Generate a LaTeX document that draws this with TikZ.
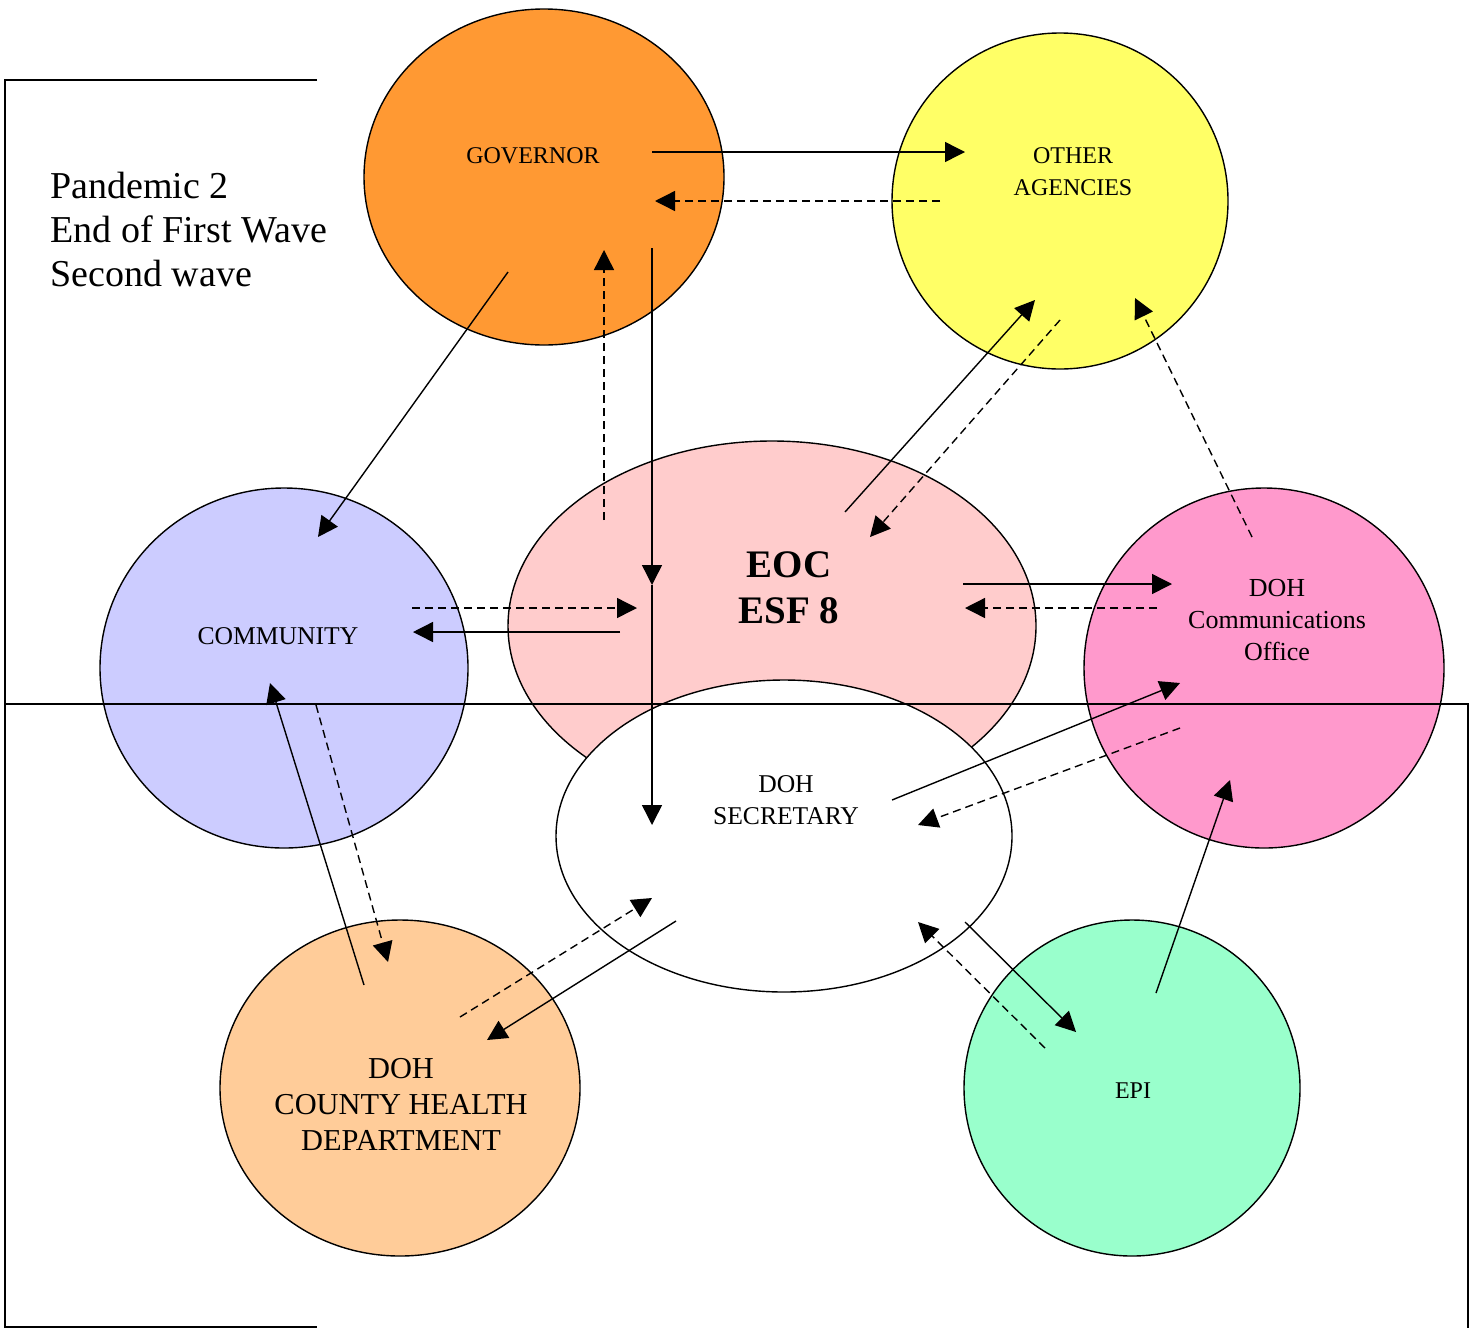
\documentclass[tikz,border=0pt]{standalone}
\usepackage{fontspec}
\setmainfont{Liberation Serif}
\usetikzlibrary{arrows.meta,shapes.geometric}
\definecolor{pgov}{HTML}{FF9933}
\definecolor{poth}{HTML}{FFFF66}
\definecolor{peoc}{HTML}{FFCCCC}
\definecolor{pcmty}{HTML}{CCCCFF}
\definecolor{pcomms}{HTML}{FF99CC}
\definecolor{pcty}{HTML}{FFCC99}
\definecolor{pepi}{HTML}{99FFCC}
\tikzset{
  blob/.style  ={ellipse, draw=black, line width=0.7pt, inner sep=0pt},
  flow/.style  ={-{Triangle[length=10pt,width=10pt]}, line width=0.7pt},
  back/.style  ={flow, dash pattern=on 4pt off 2.5pt},
  rule/.style  ={line width=0.7pt},
  lbl/.style   ={inner sep=0pt, align=center, font=\fontsize{12}{16}\selectfont},
  midlbl/.style={lbl, font=\fontsize{12.8}{16}\selectfont},
  biglbl/.style={lbl, font=\fontsize{15.2}{18}\selectfont},
}

\begin{document}
\begin{tikzpicture}[x=0.5pt,y=-0.5pt]
  \useasboundingbox (0,0) rectangle (1470,1328);
  % circles
  \node[blob, fill=pgov,   minimum width=180pt, minimum height=168pt] (gov)   at (544,177)  {};
  \node[blob, fill=poth,   minimum width=168pt, minimum height=168pt] (oth)   at (1060,201) {};
  \node[blob, fill=peoc,   minimum width=264pt, minimum height=185pt] (eoc)   at (772,626)  {};
  \node[blob, fill=pcmty,  minimum width=184pt, minimum height=180pt] (cmty)  at (284,668)  {};
  \node[blob, fill=pcomms, minimum width=180pt, minimum height=180pt] (comms) at (1264,668) {};
  \node[blob, fill=white,  minimum width=228pt, minimum height=156pt] (sec)   at (784,836)  {};
  \node[blob, fill=pcty,   minimum width=180pt, minimum height=168pt] (cty)   at (400,1088) {};
  \node[blob, fill=pepi,   minimum width=168pt, minimum height=168pt] (epi)   at (1132,1088){};
  % frame
  \draw[rule] (317,80) -- (5,80) -- (5,1328);
  \draw[rule] (5,1327) -- (317,1327);
  \draw[rule] (5,704) -- (1468,704) -- (1468,1328);
  % arrows
  \draw[flow] ([shift={(108,-25)}]gov.center) -- ([shift={(-95,-49)}]oth.center);
  \draw[back] ([shift={(-120,0)}]oth.center) -- ([shift={(111,24)}]gov.center);
  \draw[flow] ([shift={(-36,95)}]gov.center) -- ([shift={(34,-131)}]cmty.center);
  \draw[back] ([shift={(-168,-106)}]eoc.center) -- ([shift={(60,73)}]gov.center);
  \draw[flow] ([shift={(108,71)}]gov.center) -- ([shift={(-120,-41)}]eoc.center);
  \draw[flow] ([shift={(-120,-41)}]eoc.center) -- ([shift={(-132,-11)}]sec.center);
  \draw[flow] ([shift={(73,-114)}]eoc.center) -- ([shift={(-25,99)}]oth.center);
  \draw[back] ([shift={(0,119)}]oth.center) -- ([shift={(98,-89)}]eoc.center);
  \draw[back] ([shift={(-12,-131)}]comms.center) -- ([shift={(75,97)}]oth.center);
  \draw[flow] ([shift={(191,-42)}]eoc.center) -- ([shift={(-92,-84)}]comms.center);
  \draw[back] ([shift={(-107,-60)}]comms.center) -- ([shift={(193,-18)}]eoc.center);
  \draw[back] ([shift={(128,-60)}]cmty.center) -- ([shift={(-135,-18)}]eoc.center);
  \draw[flow] ([shift={(-152,6)}]eoc.center) -- ([shift={(129,-36)}]cmty.center);
  \draw[flow] ([shift={(108,-36)}]sec.center) -- ([shift={(-84,15)}]comms.center);
  \draw[back] ([shift={(-84,60)}]comms.center) -- ([shift={(134,-11)}]sec.center);
  \draw[flow] ([shift={(-36,-103)}]cty.center) -- ([shift={(-14,15)}]cmty.center);
  \draw[back] ([shift={(32,37)}]cmty.center) -- ([shift={(-12,-126)}]cty.center);
  \draw[back] ([shift={(60,-71)}]cty.center) -- ([shift={(-132,62)}]sec.center);
  \draw[flow] ([shift={(-108,85)}]sec.center) -- ([shift={(87,-48)}]cty.center);
  \draw[flow] ([shift={(181,86)}]sec.center) -- ([shift={(-56,-56)}]epi.center);
  \draw[back] ([shift={(-87,-40)}]epi.center) -- ([shift={(134,86)}]sec.center);
  \draw[flow] ([shift={(24,-95)}]epi.center) -- ([shift={(-34,112)}]comms.center);
  % labels
  \node[lbl, anchor=west, align=left, font=\fontsize{19}{22}\selectfont] (title) at (50,229)
    {Pandemic 2\\End of First Wave\\Second wave};
  \node[lbl] (govtxt) at (533,156) {GOVERNOR};
  \node[lbl] (othtxt) at (1073,172) {OTHER\\AGENCIES};
  \node[lbl, font=\fontsize{19.5}{23}\selectfont\bfseries] (eoctxt) at (789,588) {EOC\\ESF 8};
  \node[midlbl] (cmtytxt) at (278,636) {COMMUNITY};
  \node[midlbl, font=\fontsize{13}{16}\selectfont] (commstxt) at (1277,620) {DOH\\Communications\\Office};
  \node[midlbl] (sectxt) at (786,800) {DOH\\SECRETARY};
  \node[biglbl] (ctytxt) at (401,1104) {DOH\\COUNTY HEALTH\\DEPARTMENT};
  \node[lbl] (epitxt) at (1133,1091) {EPI};
\end{tikzpicture}
\end{document}
